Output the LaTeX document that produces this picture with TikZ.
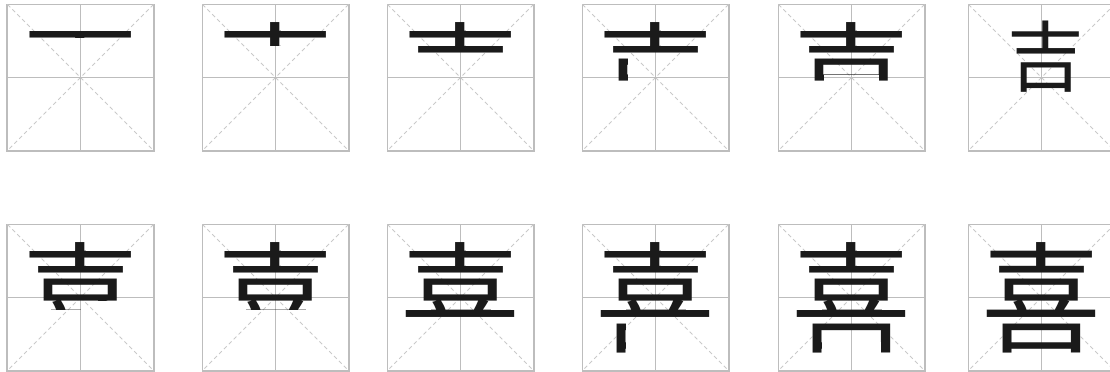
\documentclass[tikz,border=0pt]{standalone}
\usepackage{fontspec}
\usepackage{xcolor}
\usepackage{tikz}
\newfontfamily\cjk{Noto Sans CJK SC}
\definecolor{gridgray}{HTML}{BDBDBD}
\definecolor{diaggray}{HTML}{C9C9C9}
\definecolor{ink}{HTML}{1A1A1A}
\tikzset{
  cell/.style={rectangle, draw=gridgray, line width=1.4pt, minimum size=3.65cm,
               inner sep=0pt, outer sep=0pt},
  midline/.style={draw=gridgray, line width=1.2pt},
  diag/.style={draw=diaggray, line width=0.6pt, dash pattern=on 2.8pt off 2.1pt},
  glyph/.style={inner sep=0pt, text height=2.64cm, text depth=0.36cm, text=ink,
                font=\cjk\fontsize{3cm}{3cm}\selectfont},
  smallglyph/.style={inner sep=0pt, text height=1.69cm, text depth=0.23cm, text=ink,
                     font=\cjk\fontsize{1.92cm}{1.92cm}\selectfont},
}
% stroke regions of the glyph, in units of 1/20 em (origin: em box lower left)
\newcommand{\sA}{(1.2,16.62) rectangle (18.9,17.74)}
\newcommand{\sB}{(9.0,15.25) rectangle (10.9,19.6)}
\newcommand{\sC}{(2.8,13.8) rectangle (17.3,15.25)}
\newcommand{\sD}{(3.7,9.5) rectangle (5.35,13.3)}
\newcommand{\sE}{(5.35,10.58) rectangle (16.3,13.3) (14.6,9.5) rectangle (16.3,10.58)}
\newcommand{\sF}{(5.35,9.5) rectangle (14.6,10.58)}
\newcommand{\sG}{(5.0,7.95) rectangle (10.0,9.5)}
\newcommand{\sH}{(10.0,7.95) rectangle (15.0,9.5)}
\newcommand{\sI}{(0.7,6.6) rectangle (19.3,7.95)}
\newcommand{\sJ}{(3.4,0.6) rectangle (5.05,5.9)}
\newcommand{\sK}{(5.05,2.64) rectangle (16.7,5.9) (14.95,0.6) rectangle (16.7,2.64)}
\newcommand{\sL}{(5.05,1.3) rectangle (14.95,2.64)}
% #1 name, #2 cell, #3 visible strokes
\newcommand{\partglyph}[3]{%
  \begin{scope}[shift={(#2.center)}, x=0.15cm, y=0.15cm, shift={(-10,-10)}]
    \clip #3;
    \node[glyph] (#1) at (10,10) {喜};
  \end{scope}}

\begin{document}
\begin{tikzpicture}[x=0.025cm, y=-0.025cm]
  \useasboundingbox (0,0) rectangle (1110,371);

  % ── cells ────────────────────────────────────────────────────────────────
  \foreach \cx [count=\i] in {80.5,275.5,460.5,655.5,851.5,1041.5} {
    \pgfmathtruncatemacro{\j}{\i+6}
    \node[cell] (c\i) at (\cx,77.5)  {};
    \node[cell] (c\j) at (\cx,297.5) {};
    \foreach \c in {c\i,c\j} {
      \draw[diag]    (\c.north west) -- (\c.south east);
      \draw[diag]    (\c.north east) -- (\c.south west);
      \draw[midline] (\c.north) -- (\c.south);
      \draw[midline] (\c.west)  -- (\c.east);
    }
  }

  % ── row 1 ────────────────────────────────────────────────────────────────
  \partglyph{g1}{c1}{\sA}
  \partglyph{g2}{c2}{\sA \sB}
  \partglyph{g3}{c3}{\sA \sB \sC}
  \partglyph{g4}{c4}{\sA \sB \sC \sD}
  \partglyph{g5}{c5}{\sA \sB \sC \sD \sE}
  \node[smallglyph] (g6) at ([xshift=0.11cm, yshift=0.54cm]c6.center) {吉};

  % ── row 2 ────────────────────────────────────────────────────────────────
  \partglyph{g7}{c7}{\sA \sB \sC \sD \sE \sF \sG}
  \partglyph{g8}{c8}{\sA \sB \sC \sD \sE \sF \sG \sH}
  \partglyph{g9}{c9}{\sA \sB \sC \sD \sE \sF \sG \sH \sI}
  \partglyph{g10}{c10}{\sA \sB \sC \sD \sE \sF \sG \sH \sI \sJ}
  \partglyph{g11}{c11}{\sA \sB \sC \sD \sE \sF \sG \sH \sI \sJ \sK}
  \node[glyph] (g12) at (c12) {喜};

\end{tikzpicture}
\end{document}
